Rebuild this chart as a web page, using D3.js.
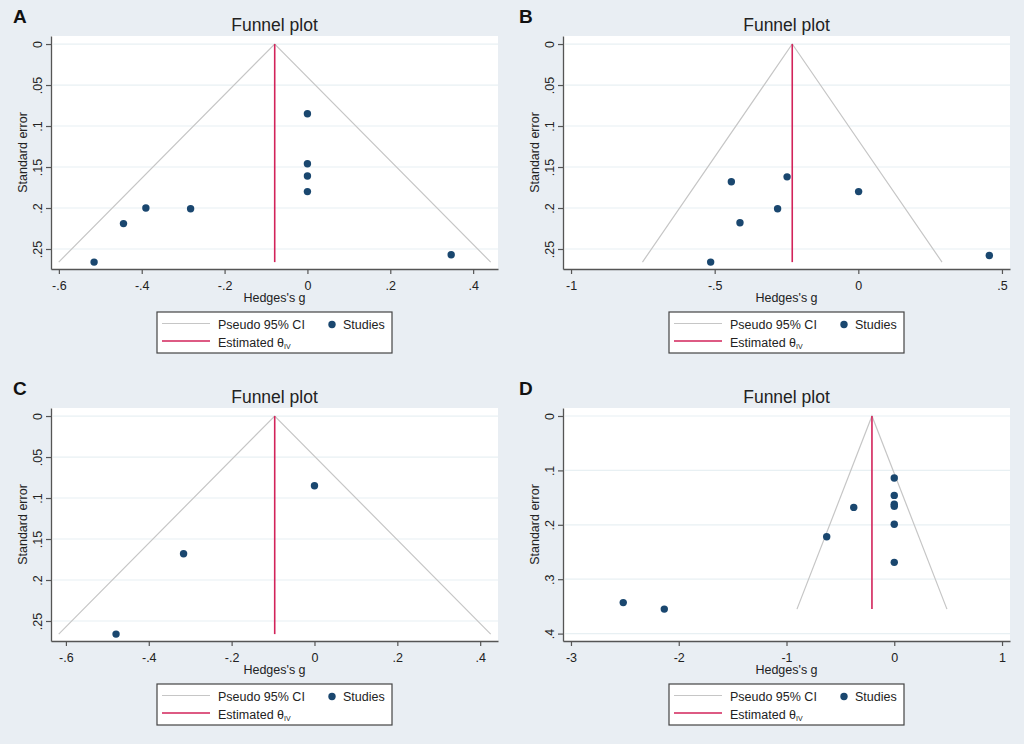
<!DOCTYPE html>
<html>
<head>
<meta charset="utf-8">
<script src="https://cdn.jsdelivr.net/npm/d3@7"></script>
<style>
    body { margin: 0; background: #e9eef3; }
    text { font-family: "Liberation Sans", Arial, sans-serif; fill: #222; }
</style>
</head>
<body>
<div id="chart"></div>
<script>
// study effect sizes (Hedges's g) and standard errors
const panelA_g  = [0, 0, 0, 0, -0.39, -0.282, -0.444, -0.515, 0.347];
const panelA_se = [0.085, 0.146, 0.161, 0.180, 0.200, 0.201, 0.219, 0.266, 0.257];
const panelB_g  = [-0.442, -0.248, 0.001, -0.281, -0.412, -0.514, 0.456];
const panelB_se = [0.168, 0.162, 0.180, 0.201, 0.218, 0.266, 0.258];
const panelC_g  = [0, -0.316, -0.479];
const panelC_se = [0.085, 0.168, 0.266];
const panelD_g  = [0, 0, 0, 0, 0, 0, -0.376, -0.627, -2.515, -2.134];
const panelD_se = [0.114, 0.146, 0.162, 0.166, 0.199, 0.269, 0.168, 0.222, 0.343, 0.355];

// pooled estimate (theta IV) per panel
const thetas = [-0.079, -0.230, -0.096, -0.207];

// tick labels
const xTicksA = ['-.6', '-.4', '-.2', '0', '.2', '.4'];
const xTicksB = ['-1', '-.5', '0', '.5'];
const xTicksC = ['-.6', '-.4', '-.2', '0', '.2', '.4'];
const xTicksD = ['-3', '-2', '-1', '0', '1'];
const yTicksABC = ['0', '.05', '.1', '.15', '.2', '.25'];
const yTicksD = ['0', '.1', '.2', '.3', '.4'];

const letters = ['A', 'B', 'C', 'D'];

const W = 1024, H = 744;
const plot = {left: 51, right: 498, top: 36, bottom: 269};

const svg = d3.select('#chart').append('svg')
    .attr('width', W)
    .attr('height', H);

svg.append('rect')
    .attr('width', W).attr('height', H)
    .attr('fill', '#e9eef3');

const panels = [
    {ox: 0,   oy: 0,   letterX: 13, g: panelA_g, se: panelA_se, theta: thetas[0],
     xDom: [-0.619, 0.460], yDom: [-0.0098, 0.2744], xt: xTicksA, yt: yTicksABC},
    {ox: 512, oy: 0,   letterX: 7,  g: panelB_g, se: panelB_se, theta: thetas[1],
     xDom: [-1.028, 0.528], yDom: [-0.0098, 0.2744], xt: xTicksB, yt: yTicksABC},
    {ox: 0,   oy: 372, letterX: 13, g: panelC_g, se: panelC_se, theta: thetas[2],
     xDom: [-0.636, 0.443], yDom: [-0.0098, 0.2744], xt: xTicksC, yt: yTicksABC},
    {ox: 512, oy: 372, letterX: 7,  g: panelD_g, se: panelD_se, theta: thetas[3],
     xDom: [-3.074, 1.074], yDom: [-0.0147, 0.4136], xt: xTicksD, yt: yTicksD}
];

panels.forEach((p, i) => drawPanel(p, letters[i]));

function drawPanel(p, letter) {
    const g = svg.append('g').attr('transform', `translate(${p.ox},${p.oy})`);

    const x = d3.scaleLinear().domain(p.xDom).range([plot.left, plot.right]);
    const y = d3.scaleLinear().domain(p.yDom).range([plot.top, plot.bottom]);

    // panel letter + title
    g.append('text')
        .attr('x', p.letterX).attr('y', 23)
        .style('font-size', '19px').style('font-weight', 'bold')
        .style('fill', '#111')
        .text(letter);

    g.append('text')
        .attr('x', (plot.left + plot.right) / 2).attr('y', 31)
        .attr('text-anchor', 'middle')
        .style('font-size', '17.5px')
        .text('Funnel plot');

    // plot region
    g.append('rect')
        .attr('x', plot.left).attr('y', plot.top)
        .attr('width', plot.right - plot.left)
        .attr('height', plot.bottom - plot.top)
        .attr('fill', '#fff');

    // horizontal grid
    g.selectAll('.grid')
        .data(p.yt.map(Number))
        .enter()
        .append('line')
            .attr('x1', plot.left + 2).attr('x2', plot.right)
            .attr('y1', d => y(d)).attr('y2', d => y(d))
            .attr('stroke', '#e8f0f3')
            .attr('stroke-width', 1.2);

    // funnel (pseudo 95% CI)
    const seMax = d3.max(p.se);
    const funnel = [
        [p.theta - 1.96 * seMax, seMax],
        [p.theta, 0],
        [p.theta + 1.96 * seMax, seMax]
    ];
    g.append('path')
        .datum(funnel)
        .attr('d', d3.line().x(d => x(d[0])).y(d => y(d[1])))
        .attr('fill', 'none')
        .attr('stroke', '#c6c6c6')
        .attr('stroke-width', 1.2);

    // estimated theta
    g.append('line')
        .attr('x1', x(p.theta)).attr('x2', x(p.theta))
        .attr('y1', y(0)).attr('y2', y(seMax))
        .attr('stroke', '#d2235a')
        .attr('stroke-width', 1.6);

    // studies
    g.selectAll('.dot')
        .data(p.g.map((v, k) => ({g: v, se: p.se[k]})))
        .enter()
        .append('circle')
            .attr('cx', d => x(d.g))
            .attr('cy', d => y(d.se))
            .attr('r', 3.7)
            .attr('fill', '#1a476f');

    // axes
    const xAxis = g.append('g')
        .attr('transform', `translate(0,${plot.bottom})`)
        .call(d3.axisBottom(x)
            .tickValues(p.xt.map(Number))
            .tickFormat((d, k) => p.xt[k])
            .tickSize(5).tickSizeOuter(0));
    xAxis.selectAll('text')
        .attr('y', 12)
        .style('font-size', '12.5px');

    const yAxis = g.append('g')
        .attr('transform', `translate(${plot.left},0)`)
        .call(d3.axisLeft(y)
            .tickValues(p.yt.map(Number))
            .tickFormat((d, k) => p.yt[k])
            .tickSize(5).tickSizeOuter(0));
    yAxis.selectAll('text')
        .attr('x', null).attr('dy', null)
        .attr('text-anchor', 'middle')
        .attr('transform', 'translate(-9,0) rotate(-90)')
        .style('font-size', '12.5px');

    [xAxis, yAxis].forEach(a => {
        a.select('.domain').attr('stroke', '#555').attr('stroke-width', 1.3);
        a.selectAll('.tick line').attr('stroke', '#555').attr('stroke-width', 1.2);
        a.selectAll('text').style('fill', '#222').style('font-family', '"Liberation Sans", Arial, sans-serif');
    });

    // axis titles
    g.append('text')
        .attr('x', (plot.left + plot.right) / 2).attr('y', 302)
        .attr('text-anchor', 'middle')
        .style('font-size', '12.5px')
        .text("Hedges's g");

    g.append('text')
        .attr('transform', `translate(27,${(plot.top + plot.bottom) / 2}) rotate(-90)`)
        .attr('text-anchor', 'middle')
        .style('font-size', '12.5px')
        .text('Standard error');

    drawLegend(g);
}

function drawLegend(g) {
    const lg = g.append('g');
    lg.append('rect')
        .attr('x', 157).attr('y', 312)
        .attr('width', 235).attr('height', 41)
        .attr('fill', '#fff')
        .attr('stroke', '#444')
        .attr('stroke-width', 1.2);

    lg.append('line')
        .attr('x1', 162).attr('x2', 210)
        .attr('y1', 323.5).attr('y2', 323.5)
        .attr('stroke', '#c6c6c6').attr('stroke-width', 1.2);
    lg.append('text')
        .attr('x', 218).attr('y', 329)
        .style('font-size', '12.5px')
        .text('Pseudo 95% CI');

    lg.append('circle')
        .attr('cx', 332).attr('cy', 324.5)
        .attr('r', 3.7)
        .attr('fill', '#1a476f');
    lg.append('text')
        .attr('x', 343).attr('y', 329)
        .style('font-size', '12.5px')
        .text('Studies');

    lg.append('line')
        .attr('x1', 162).attr('x2', 210)
        .attr('y1', 341).attr('y2', 341)
        .attr('stroke', '#d2235a').attr('stroke-width', 1.6);
    const t = lg.append('text')
        .attr('x', 218).attr('y', 346.5)
        .style('font-size', '12.5px')
        .text('Estimated θ');
    t.append('tspan')
        .attr('dy', 2.5)
        .style('font-size', '7px')
        .text('IV');
}
</script>
</body>
</html>
